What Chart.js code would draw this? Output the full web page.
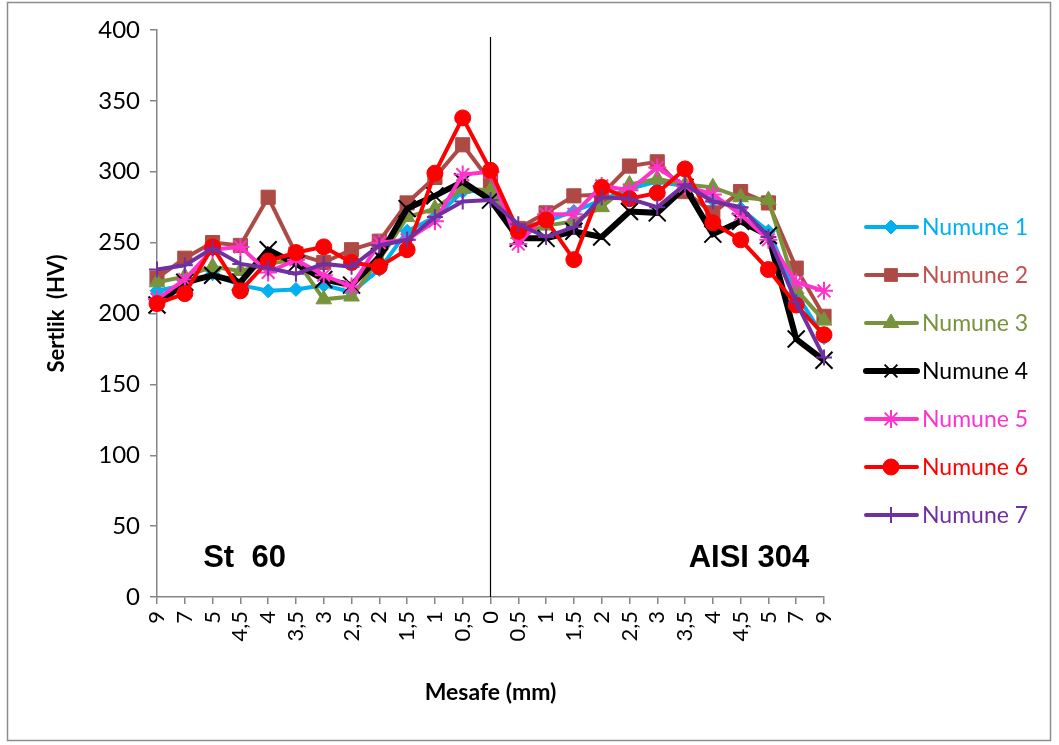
<!DOCTYPE html>
<html>
<head>
<meta charset="utf-8">
<script src="https://cdn.jsdelivr.net/npm/chart.js@4"></script>
<style>
  html, body { margin: 0; padding: 0; background: #fff; }
</style>
</head>
<body>
<canvas id="sertlikGraf" width="1059" height="745"></canvas>
<script>
// Mesafe etiketleri: St 60 tarafı (9 -> 0) ve AISI 304 tarafı (0,5 -> 9)
const mesafe = ["9", "7", "5", "4,5", "4", "3,5", "3", "2,5", "2", "1,5", "1", "0,5", "0",
                "0,5", "1", "1,5", "2", "2,5", "3", "3,5", "4", "4,5", "5", "7", "9"];

// Sertlik değerleri (HV)
const numune1 = [216, 220, 228, 220, 216, 217, 220, 215, 231, 258, 268, 286, 287, 260, 265, 272, 280, 288, 293, 290, 280, 274, 258, 214, 183];
const numune2 = [225, 239, 250, 248, 282, 242, 236, 245, 251, 278, 296, 319, 293, 260, 271, 283, 284, 304, 307, 286, 271, 286, 278, 232, 198];
const numune3 = [222, 226, 233, 230, 235, 238, 210, 212, 238, 268, 274, 288, 287, 256, 262, 265, 275, 291, 295, 291, 289, 282, 280, 217, 195];
const numune4 = [206, 222, 227, 222, 245, 235, 224, 220, 240, 274, 283, 293, 280, 253, 253, 258, 254, 272, 271, 289, 256, 265, 255, 182, 167];
const numune5 = [210, 224, 245, 247, 229, 238, 227, 219, 250, 252, 265, 298, 300, 249, 270, 270, 290, 287, 303, 290, 284, 270, 252, 222, 216];
const numune6 = [207, 214, 247, 216, 237, 243, 247, 236, 233, 245, 299, 338, 301, 258, 266, 238, 289, 281, 285, 302, 264, 252, 231, 206, 185];
const numune7 = [231, 234, 246, 235, 232, 228, 235, 233, 248, 252, 268, 279, 280, 263, 254, 261, 282, 281, 275, 291, 279, 275, 254, 208, 169];

const yMin = 0, yMax = 400, yAdim = 50;

const fontAdi = "Lato, 'Open Sans', sans-serif";
const gri = "#868686";

function seri(ad, veri, renk, yaziRengi, stil, r, cizgi, nokta, sira) {
  return {
    label: ad,
    data: veri,
    borderColor: renk,
    backgroundColor: renk,
    borderWidth: cizgi,
    pointStyle: stil,
    pointRadius: r,
    pointHoverRadius: r,
    pointBorderWidth: nokta,
    pointBackgroundColor: renk,
    pointBorderColor: renk,
    tension: 0,
    order: sira,
    yaziRengi: yaziRengi
  };
}

const veriSetleri = [
  seri("Numune 1", numune1, "#00B0F0", "#00B0F0", "rectRot", 7, 4, 1, 7),
  seri("Numune 2", numune2, "#AE4A45", "#C0504D", "rect", 10, 4, 1, 6),
  seri("Numune 3", numune3, "#77933C", "#77933C", "triangle", 9, 4, 1, 5),
  seri("Numune 4", numune4, "#000000", "#000000", "crossRot", 12, 6, 2, 4),
  seri("Numune 5", numune5, "#FF33CC", "#FF33CC", "star", 9, 4, 2, 3),
  seri("Numune 6", numune6, "#FF0000", "#FF0000", "circle", 8, 4, 1, 2),
  seri("Numune 7", numune7, "#7030A0", "#7030A0", "cross", 8, 4, 2, 1)
];

// çerçeve, 0 noktasındaki dikey çizgi, malzeme adları ve lejant
const ekler = {
  id: "ekler",
  beforeDraw(chart) {
    const ctx = chart.ctx;
    ctx.save();
    ctx.fillStyle = "#fff";
    ctx.fillRect(0, 0, chart.width, chart.height);
    ctx.strokeStyle = "#8c8c8c";
    ctx.lineWidth = 1.5;
    ctx.strokeRect(7.5, 2.5, 1043, 738);
    ctx.restore();
  },
  beforeDatasetsDraw(chart) {
    const ctx = chart.ctx;
    const x = chart.scales.x.getPixelForValue(12);
    ctx.save();
    ctx.strokeStyle = "#000";
    ctx.lineWidth = 1.2;
    ctx.beginPath();
    ctx.moveTo(x, chart.chartArea.top + 7);
    ctx.lineTo(x, chart.chartArea.bottom);
    ctx.stroke();
    ctx.restore();
  },
  afterDraw(chart) {
    const ctx = chart.ctx;
    const xs = chart.scales.x, ys = chart.scales.y;
    ctx.save();
    ctx.fillStyle = "#000";
    ctx.font = "bold 31px 'Liberation Sans', Arial, sans-serif";
    ctx.textAlign = "center";
    ctx.textBaseline = "middle";
    ctx.fillText("St  60", xs.getPixelForValue(3.15), ys.getPixelForValue(27));
    ctx.fillText("AISI 304", xs.getPixelForValue(21.3), ys.getPixelForValue(27));

    // lejant
    const h = Chart.helpers;
    chart.data.datasets.forEach((ds, i) => {
      const y = 227 + i * 48;
      ctx.strokeStyle = ds.borderColor;
      ctx.fillStyle = ds.borderColor;
      ctx.lineWidth = ds.borderWidth;
      ctx.lineCap = "round";
      ctx.beginPath();
      ctx.moveTo(866, y);
      ctx.lineTo(917, y);
      ctx.stroke();
      ctx.lineCap = "butt";
      ctx.lineWidth = ds.pointBorderWidth;
      h.drawPoint(ctx, {
        pointStyle: ds.pointStyle,
        radius: Math.min(ds.pointRadius, 9),
        rotation: 0,
        borderWidth: ds.pointBorderWidth
      }, 891, y);
      ctx.fillStyle = ds.yaziRengi;
      ctx.font = "23px " + fontAdi;
      ctx.textAlign = "left";
      ctx.textBaseline = "middle";
      ctx.fillText(ds.label, 922, y + 1);
    });
    ctx.restore();
  }
};

new Chart(document.getElementById("sertlikGraf"), {
  type: "line",
  data: { labels: mesafe, datasets: veriSetleri },
  plugins: [ekler],
  options: {
    responsive: false,
    animation: false,
    devicePixelRatio: 1,
    layout: { padding: { top: 30, right: 235, left: 0, bottom: 0 } },
    plugins: { legend: { display: false }, tooltip: { enabled: false } },
    scales: {
      x: {
        type: "category",
        offset: false,
        afterFit(s) { s.height = 148; },
        grid: { drawOnChartArea: false, drawTicks: true, tickLength: 7, color: gri, lineWidth: 1.5 },
        border: { color: gri, width: 1.5 },
        ticks: {
          autoSkip: false, minRotation: 90, maxRotation: 90, padding: 7,
          color: "#000", font: { family: fontAdi, size: 22 }
        },
        title: {
          display: true, text: "Mesafe (mm)", color: "#000",
          font: { family: fontAdi, size: 23, weight: "bold" },
          padding: { bottom: 39 }
        }
      },
      y: {
        min: yMin, max: yMax,
        afterFit(s) { s.width = 157; },
        grid: { drawOnChartArea: false, drawTicks: true, tickLength: 7, color: gri, lineWidth: 1.5 },
        border: { color: gri, width: 1.5 },
        ticks: {
          stepSize: yAdim, padding: 10, color: "#000",
          font: { family: fontAdi, size: 24 }
        },
        title: {
          display: true, text: "Sertlik  (HV)", color: "#000",
          font: { family: fontAdi, size: 22, weight: "bold" },
          padding: { top: 44 }
        }
      }
    }
  }
});
</script>
</body>
</html>
